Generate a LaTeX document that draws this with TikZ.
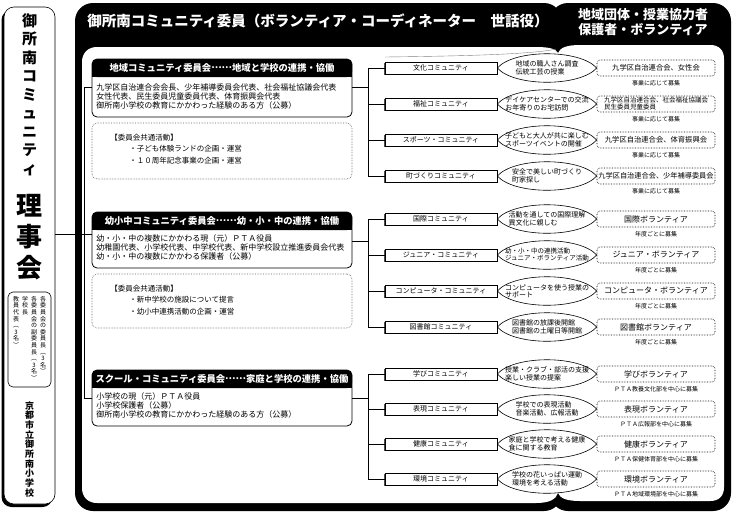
\documentclass[tikz,border=0pt]{standalone}
\usepackage{fontspec}
\setmainfont{Noto Sans CJK JP}
\usetikzlibrary{positioning, calc, shadows}

\newcommand\fs[2]{\fontsize{#1}{#2}\selectfont}
\newcommand\middots{\raisebox{.32em}{……}}
\makeatletter
\newcommand\tate[2]{\vbox{\baselineskip=#1\relax
  \@tfor\tate@c:=#2\do{\hbox to 1em{\hss\tate@c\hss}}}}
\makeatother

\begin{document}
\begin{tikzpicture}[
    x=1pt, y=-1pt,
    line width=0.6pt,
    panel/.style={draw, line width=0.8pt, fill=white, rounded corners=5pt, minimum width=260pt, inner sep=0pt},
    hdr/.style={fill=black, text=white, rounded corners=5pt, minimum width=260pt, minimum height=18pt, inner sep=0pt, font=\bfseries\fs{9.3pt}{9.3pt}},
    txt/.style={anchor=north west, align=left, inner sep=0pt, font=\fs{8pt}{9pt}},
    memo/.style={draw=black!60, densely dotted, rounded corners=5pt, minimum width=260pt, inner sep=0pt},
    comm/.style={rectangle, draw, fill=white, minimum width=112pt, minimum height=12pt, inner sep=0pt, font=\fs{7pt}{7pt}, drop shadow={shadow xshift=-1pt, shadow yshift=-1pt, opacity=0.7, fill=black}},
    vol/.style={rectangle, draw, densely dotted, rounded corners=3pt, minimum width=118pt, minimum height=16pt, inner sep=0pt, font=\fs{8pt}{8pt}},
    act/.style={align=left, inner sep=0pt, font=\fs{7pt}{7.5pt}},
    note/.style={inner sep=1pt, font=\fs{6pt}{6pt}},
    lens/.style={draw, to path={.. controls +(17,-19) and +(-17,-19) .. (\tikztotarget) .. controls +(-17,19) and +(17,19) .. (\tikztostart)}}
]
\useasboundingbox (0,0) rectangle (736,520);

% Frame
\fill[rounded corners=18pt] (75,3) rectangle (562,511);
\fill[rounded corners=18pt] (550,3) rectangle (731,511);
\fill[white] (97,47) -- (536,47) .. controls (550,47) and (556,49) .. (558,53)
    .. controls (560,48) and (566,45) .. (580,45) -- (710,45)
    .. controls (719,45) and (724,50) .. (724,59) -- (724,487)
    .. controls (724,496) and (719,501) .. (710,501) -- (580,501)
    .. controls (566,501) and (560,498) .. (558,493)
    .. controls (556,499) and (550,503) .. (536,503) -- (97,503)
    .. controls (88,503) and (82,497) .. (82,488) -- (82,62)
    .. controls (82,53) and (88,47) .. (97,47) -- cycle;
\draw[black!50, line width=0.4pt] (385,57) .. controls (470,56) and (535,54) .. (556,49);

% Headers
\node[anchor=west, inner sep=0pt, text=white, font=\bfseries\fs{14.5pt}{14.5pt}] (title) at (87,21) {御所南コミュニティ委員（ボランティア・コーディネーター　世話役）};
\node[inner sep=0pt, text=white, align=center, font=\bfseries\fs{13pt}{15pt}] (partner) at (643,22) {地域団体・授業協力者\\保護者・ボランティア};

% Board
\node[draw, fill=white, rounded corners=10pt, minimum width=51pt, minimum height=497pt, drop shadow={shadow xshift=-2.5pt, shadow yshift=-3pt, opacity=1, fill=black}] (board) at (29.5,255.5) {};
\node[anchor=north, inner sep=0pt, font=\bfseries\fs{15pt}{15pt}] (bname) at (29.5,13) {\tate{18.5pt}{御所南コミュニティ}};
\node[anchor=north, inner sep=0pt, font=\bfseries\fs{26pt}{26pt}] (rij) at (29.5,194) {\tate{31pt}{理事会}};
\node[draw, rounded corners=5pt, minimum width=43pt, minimum height=95pt] (members) at (29.5,339.5) {};
\node[anchor=north, inner sep=0pt, font=\fs{6pt}{6pt}] (mem1) at (43,296) {\tate{6.6pt}{各委員会の委員長︵3名︶}};
\node[anchor=north, inner sep=0pt, font=\fs{6pt}{6pt}] (mem2) at (34,296) {\tate{6.6pt}{各委員会の副委員長︵3名︶}};
\node[anchor=north, inner sep=0pt, font=\fs{6pt}{6pt}] (mem3) at (25,296) {\tate{6.6pt}{学校長}};
\node[anchor=north, inner sep=0pt, font=\fs{6pt}{6pt}] (mem4) at (16,296) {\tate{6.6pt}{教員代表︵3名︶}};
\node[anchor=north, inner sep=0pt, font=\bfseries\fs{9pt}{9pt}] (school) at (29.5,401) {\tate{9.7pt}{京都市立御所南小学校}};

% Committees
\node[panel, minimum height=58pt] (b1) at (222,88) {};
\fill ([yshift=-9pt]b1.north west) rectangle ([yshift=-18pt]b1.north east);
\node[hdr] (h1) at (222,68) {地域コミュニティ委員会\middots 地域と学校の連携・協働};
\node[txt] (p1) at (96,83.5) {九学区自治連合会会長、少年補導委員会代表、社会福祉協議会代表\\女性代表、民生委員児童委員代表、体育振興会代表\\御所南小学校の教育にかかわった経験のある方（公募）};
\node[memo, minimum height=56pt] (m1) at (222,151) {};
\node[txt, font=\fs{7.5pt}{11.5pt}] (k1) at (110,133.5) {【委員会共通活動】\\\hspace*{19pt}・子ども体験ランドの企画・運営\\\hspace*{19pt}・１０周年記念事業の企画・運営};

\node[panel, minimum height=56pt] (b2) at (222,240) {};
\fill ([yshift=-9pt]b2.north west) rectangle ([yshift=-18pt]b2.north east);
\node[hdr] (h2) at (222,221) {幼小中コミュニティ委員会\middots 幼・小・中の連携・協働};
\node[txt] (p2) at (96,234.5) {幼・小・中の複数にかかわる現（元）ＰＴＡ役員\\幼稚園代表、小学校代表、中学校代表、新中学校設立推進委員会代表\\幼・小・中の複数にかかわる保護者（公募）};
\node[memo, minimum height=54pt] (m2) at (222,301) {};
\node[txt, font=\fs{7.5pt}{11.5pt}] (k2) at (110,284.5) {【委員会共通活動】\\\hspace*{19pt}・新中学校の施設について提言\\\hspace*{19pt}・幼小中連携活動の企画・運営};

\node[panel, minimum height=56pt] (b3) at (222,398) {};
\fill ([yshift=-9pt]b3.north west) rectangle ([yshift=-18pt]b3.north east);
\node[hdr] (h3) at (222,379) {スクール・コミュニティ委員会\middots 家庭と学校の連携・協働};
\node[txt] (p3) at (96,392.5) {小学校の現（元）ＰＴＡ役員\\小学校保護者（公募）\\御所南小学校の教育にかかわった経験のある方（公募）};

% Trunk
\coordinate (t1) at (84,87);
\coordinate (t2) at (84,234);
\coordinate (t3) at (84,398);
\draw[line width=0.9pt] (t1) -- (t3);
\draw[line width=0.9pt] (t1) -- (t1 -| b1.west);
\draw[line width=0.9pt] (t2 -| board.east) -- (t2 -| b2.west);
\draw[line width=0.9pt] (t3) -- (t3 -| b3.west);

% Communities
\node[comm] (c1) at (441,68) {文化コミュニティ};
\node[vol, font=\fs{7.3pt}{7.3pt}] (v1) at (656,68) {九学区自治連合会、女性会};
\node[note, below=2.5pt of v1] (n1) {事業に応じて募集};
\draw[lens] (c1.east) to (v1.west);
\node[act] (a1) at ($(c1.east)!.5!(v1.west)$) {地域の職人さん調査\\伝統工芸の授業};

\node[comm] (c2) at (441,104) {福祉コミュニティ};
\node[vol, align=left, font=\fs{6.5pt}{7pt}] (v2) at (656,104) {九学区自治連合会、社会福祉協議会\\民生委員児童委員};
\node[note, below=2.5pt of v2] (n2) {事業に応じて募集};
\draw[lens] (c2.east) to (v2.west);
\node[act] (a2) at ($(c2.east)!.5!(v2.west)$) {デイケアセンターでの交流\\お年寄りのお宅訪問};

\node[comm] (c3) at (441,140) {スポーツ・コミュニティ};
\node[vol, font=\fs{7.3pt}{7.3pt}] (v3) at (656,140) {九学区自治連合会、体育振興会};
\node[note, below=2.5pt of v3] (n3) {事業に応じて募集};
\draw[lens] (c3.east) to (v3.west);
\node[act] (a3) at ($(c3.east)!.5!(v3.west)$) {子どもと大人が共に楽しむ\\スポーツイベントの開催};

\node[comm] (c4) at (441,176) {町づくりコミュニティ};
\node[vol, font=\fs{7.2pt}{7.2pt}] (v4) at (656,176) {九学区自治連合会、少年補導委員会};
\node[note, below=2.5pt of v4] (n4) {事業に応じて募集};
\draw[lens] (c4.east) to (v4.west);
\node[act] (a4) at ($(c4.east)!.5!(v4.west)$) {安全で美しい町づくり\\町家探し};

\node[comm] (c5) at (441,219) {国際コミュニティ};
\node[vol] (v5) at (656,219) {国際ボランティア};
\node[note, below=2.5pt of v5] (n5) {年度ごとに募集};
\draw[lens] (c5.east) to (v5.west);
\node[act] (a5) at ($(c5.east)!.5!(v5.west)$) {活動を通しての国際理解\\異文化に親しむ};

\node[comm] (c6) at (441,255) {ジュニア・コミュニティ};
\node[vol] (v6) at (656,255) {ジュニア・ボランティア};
\node[note, below=2.5pt of v6] (n6) {年度ごとに募集};
\draw[lens] (c6.east) to (v6.west);
\node[act, font=\fs{6.5pt}{7pt}] (a6) at ($(c6.east)!.5!(v6.west)$) {幼・小・中の連携活動\\ジュニア・ボランティア活動};

\node[comm] (c7) at (441,291) {コンピュータ・コミュニティ};
\node[vol] (v7) at (656,291) {コンピュータ・ボランティア};
\node[note, below=2.5pt of v7] (n7) {年度ごとに募集};
\draw[lens] (c7.east) to (v7.west);
\node[act] (a7) at ($(c7.east)!.5!(v7.west)$) {コンピュータを使う授業の\\サポート};

\node[comm] (c8) at (441,327) {図書館コミュニティ};
\node[vol] (v8) at (656,327) {図書館ボランティア};
\node[note, below=2.5pt of v8] (n8) {年度ごとに募集};
\draw[lens] (c8.east) to (v8.west);
\node[act] (a8) at ($(c8.east)!.5!(v8.west)$) {図書館の放課後開館\\図書館の土曜日等開館};

\node[comm] (c9) at (441,374) {学びコミュニティ};
\node[vol] (v9) at (656,374) {学びボランティア};
\node[note, below=2.5pt of v9] (n9) {ＰＴＡ教養文化部を中心に募集};
\draw[lens] (c9.east) to (v9.west);
\node[act] (a9) at ($(c9.east)!.5!(v9.west)$) {授業・クラブ・部活の支援\\楽しい授業の提案};

\node[comm] (c10) at (441,409) {表現コミュニティ};
\node[vol] (v10) at (656,409) {表現ボランティア};
\node[note, below=2.5pt of v10] (n10) {ＰＴＡ広報部を中心に募集};
\draw[lens] (c10.east) to (v10.west);
\node[act] (a10) at ($(c10.east)!.5!(v10.west)$) {学校での表現活動\\音楽活動、広報活動};

\node[comm] (c11) at (441,444) {健康コミュニティ};
\node[vol] (v11) at (656,444) {健康ボランティア};
\node[note, below=2.5pt of v11] (n11) {ＰＴＡ保健体育部を中心に募集};
\draw[lens] (c11.east) to (v11.west);
\node[act] (a11) at ($(c11.east)!.5!(v11.west)$) {家庭と学校で考える健康\\食に関する教育};

\node[comm] (c12) at (441,479) {環境コミュニティ};
\node[vol] (v12) at (656,479) {環境ボランティア};
\node[note, below=2.5pt of v12] (n12) {ＰＴＡ地域環境部を中心に募集};
\draw[lens] (c12.east) to (v12.west);
\node[act] (a12) at ($(c12.east)!.5!(v12.west)$) {学校の花いっぱい運動\\環境を考える活動};

% Brackets
\coordinate (r1) at (368,87);
\coordinate (r2) at (368,241);
\coordinate (r3) at (368,398);
\draw (r1 -| b1.east) -- (r1) (c1.west) -| (r1) (c2.west) -| (r1) (c3.west) -| (r1) (c4.west) -| (r1);
\draw (r2 -| b2.east) -- (r2) (c5.west) -| (r2) (c6.west) -| (r2) (c7.west) -| (r2) (c8.west) -| (r2);
\draw (r3 -| b3.east) -- (r3) (c9.west) -| (r3) (c10.west) -| (r3) (c11.west) -| (r3) (c12.west) -| (r3);
\end{tikzpicture}
\end{document}
